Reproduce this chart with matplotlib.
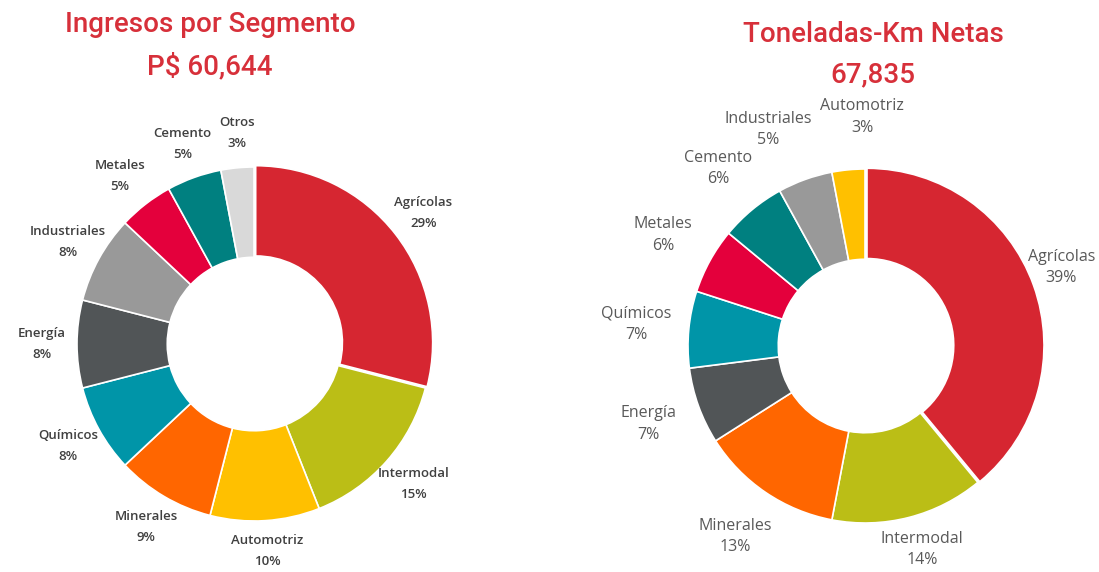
import matplotlib
matplotlib.use('Agg')
import numpy as np
import matplotlib.pyplot as plt

# ingresos por segmento
ing_labels = ['Agrícolas', 'Intermodal', 'Automotriz', 'Minerales', 'Químicos',
              'Energía', 'Industriales', 'Metales', 'Cemento', 'Otros']
ing_pct = [29, 15, 10, 9, 8, 8, 8, 5, 5, 3]

# toneladas-km netas
ton_labels = ['Agrícolas', 'Intermodal', 'Minerales', 'Energía', 'Químicos',
              'Metales', 'Cemento', 'Industriales', 'Automotriz']
ton_pct = [39, 14, 13, 7, 7, 6, 6, 5, 3]

colores = {
    'Agrícolas': '#D62631',
    'Intermodal': '#BBBE16',
    'Automotriz': '#FFC000',
    'Minerales': '#FF6600',
    'Químicos': '#0095A8',
    'Energía': '#515557',
    'Industriales': '#999999',
    'Metales': '#E4003C',
    'Cemento': '#008080',
    'Otros': '#D9D9D9',
}

W, H = 1099, 572
R = 177.0
LIM = 1.45
rojo = '#D7303A'

fig = plt.figure(figsize=(W / 100, H / 100), dpi=100)
renderer = fig.canvas.get_renderer()


def dona(cx, cy, labels, pct, dist, txtcolor, weight, size, lsp):
    side = 2 * LIM * R
    ax = fig.add_axes([(cx - LIM * R) / W, (H - cy - LIM * R) / H, side / W, side / H])
    explode = [0.012] + [0] * (len(pct) - 1)
    textos = [l + '\n' + str(p) + '%' for l, p in zip(labels, pct)]
    wedges, texts = ax.pie(pct, labels=textos, colors=[colores[l] for l in labels],
                           startangle=90, counterclock=False, explode=explode,
                           labeldistance=dist,
                           wedgeprops=dict(width=0.51, edgecolor='white', linewidth=1.2),
                           textprops=dict(color=txtcolor, fontsize=size, fontweight=weight,
                                          family=['Open Sans', 'DejaVu Sans'],
                                          linespacing=lsp))
    ax.set_xlim(-LIM, LIM)
    ax.set_ylim(-LIM, LIM)
    ax.set_aspect('equal')
    for t in texts:
        t.set_ha('center')
        t.set_va('center')

    # que no se salgan de la figura
    m = 4
    for t in texts:
        bb = t.get_window_extent(renderer)
        x, y = t.get_position()
        if bb.x1 > W - m:
            x -= (bb.x1 - (W - m)) / R
        if bb.x0 < m:
            x += (m - bb.x0) / R
        if bb.y0 < m:
            y += (m - bb.y0) / R
        t.set_position((x, y))

    # separar etiquetas vecinas que se enciman
    for _ in range(20):
        moved = False
        for i in range(len(texts)):
            a = texts[i]
            b = texts[(i + 1) % len(texts)]
            ba = a.get_window_extent(renderer)
            bbx = b.get_window_extent(renderer)
            ox = min(ba.x1, bbx.x1) - max(ba.x0, bbx.x0)
            oy = min(ba.y1, bbx.y1) - max(ba.y0, bbx.y0)
            if ox > -8 and oy > 0:
                push = (ox + 8) / 2 / R
                xa, ya = a.get_position()
                xb, yb = b.get_position()
                s = 1 if xa > xb else -1
                a.set_position((xa + s * push, ya))
                b.set_position((xb - s * push, yb))
                moved = True
        if not moved:
            break
    return ax


dona(254, 344, ing_labels, ing_pct, 1.2, '#404040', 'semibold', 9.5, 1.8)
dona(865, 346, ton_labels, ton_pct, 1.3, '#595959', 'normal', 11.5, 1.45)

tfont = dict(color=rojo, fontsize=20, fontweight='medium', ha='center', va='center',
             family=['Roboto', 'DejaVu Sans'])
fig.text(210 / W, 1 - 25 / H, 'Ingresos por Segmento', **tfont)
fig.text(210 / W, 1 - 66 / H, 'P$ 60,644', **tfont)
fig.text(873 / W, 1 - 35 / H, 'Toneladas-Km Netas', **tfont)
fig.text(873 / W, 1 - 75 / H, '67,835', **tfont)

fig.savefig('out.png', dpi=100)
